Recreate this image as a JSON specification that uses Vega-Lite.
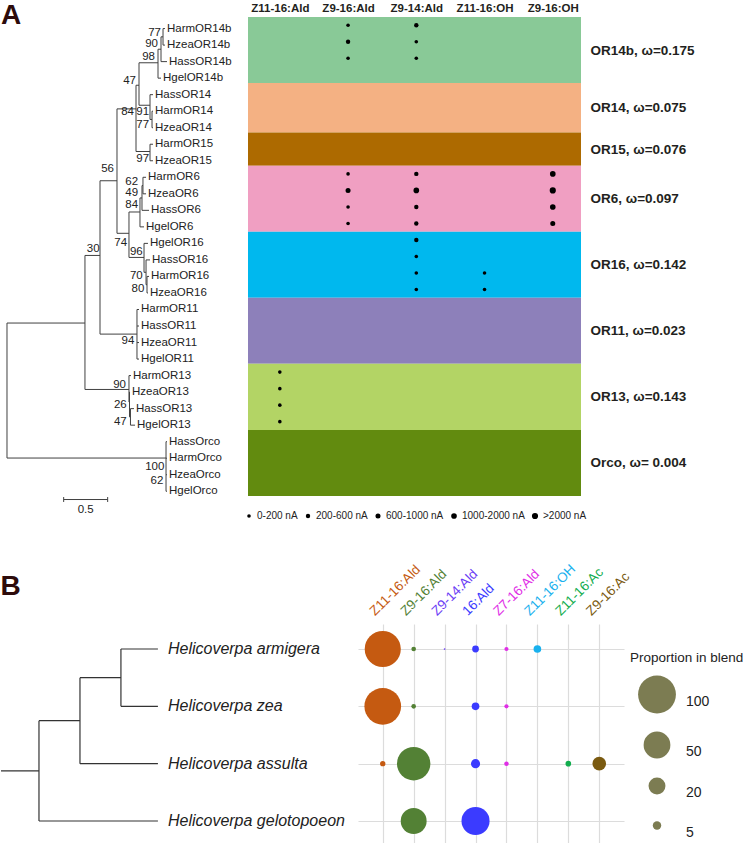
{
  "$schema": "https://vega.github.io/schema/vega-lite/v6.json",
  "padding": {"left": 0, "top": 2, "right": 0, "bottom": 0},
  "background": "white",
  "config": {
    "view": {"stroke": null},
    "font": "Liberation Sans",
    "legend": {"symbolBaseFillColor": "#7c7c52", "symbolBaseStrokeColor": "transparent"}
  },
  "datasets": {
    "treeA": [
      {"x1": 0, "x2": 0, "y1": 17.82, "y2": 25.99},
      {"x1": 0, "x2": 0.886, "y1": 17.82, "y2": 17.82},
      {"x1": 0, "x2": 1.807, "y1": 25.99, "y2": 25.99},
      {"x1": 0.886, "x2": 0.886, "y1": 13.73, "y2": 21.84},
      {"x1": 0.886, "x2": 1.057, "y1": 13.73, "y2": 13.73},
      {"x1": 0.886, "x2": 1.386, "y1": 21.84, "y2": 21.84},
      {"x1": 1.057, "x2": 1.057, "y1": 9.21, "y2": 18.49},
      {"x1": 1.057, "x2": 1.25, "y1": 9.21, "y2": 9.21},
      {"x1": 1.057, "x2": 1.477, "y1": 18.49, "y2": 18.49},
      {"x1": 1.25, "x2": 1.25, "y1": 4.86, "y2": 12.39},
      {"x1": 1.25, "x2": 1.466, "y1": 4.86, "y2": 4.86},
      {"x1": 1.25, "x2": 1.386, "y1": 12.39, "y2": 12.39},
      {"x1": 1.466, "x2": 1.466, "y1": 3.43, "y2": 7.44},
      {"x1": 1.466, "x2": 1.5, "y1": 3.43, "y2": 3.43},
      {"x1": 1.466, "x2": 1.625, "y1": 7.44, "y2": 7.44},
      {"x1": 1.5, "x2": 1.5, "y1": 2.07, "y2": 4.64},
      {"x1": 1.5, "x2": 1.716, "y1": 2.07, "y2": 2.07},
      {"x1": 1.5, "x2": 1.625, "y1": 4.64, "y2": 4.64},
      {"x1": 1.716, "x2": 1.716, "y1": 1.25, "y2": 3},
      {"x1": 1.716, "x2": 1.75, "y1": 1.25, "y2": 1.25},
      {"x1": 1.716, "x2": 1.75, "y1": 3, "y2": 3},
      {"x1": 1.75, "x2": 1.75, "y1": 0.5, "y2": 2},
      {"x1": 1.75, "x2": 1.773, "y1": 0.5, "y2": 0.5},
      {"x1": 1.75, "x2": 1.818, "y1": 2, "y2": 2},
      {"x1": 1.773, "x2": 1.773, "y1": 0, "y2": 1},
      {"x1": 1.773, "x2": 1.795, "y1": 0, "y2": 0},
      {"x1": 1.773, "x2": 1.795, "y1": 1, "y2": 1},
      {"x1": 1.625, "x2": 1.625, "y1": 4, "y2": 5.5},
      {"x1": 1.625, "x2": 1.659, "y1": 4, "y2": 4},
      {"x1": 1.625, "x2": 1.648, "y1": 5.5, "y2": 5.5},
      {"x1": 1.648, "x2": 1.648, "y1": 5, "y2": 6},
      {"x1": 1.648, "x2": 1.659, "y1": 5, "y2": 5},
      {"x1": 1.648, "x2": 1.659, "y1": 6, "y2": 6},
      {"x1": 1.625, "x2": 1.625, "y1": 7, "y2": 8},
      {"x1": 1.625, "x2": 1.659, "y1": 7, "y2": 7},
      {"x1": 1.625, "x2": 1.659, "y1": 8, "y2": 8},
      {"x1": 1.386, "x2": 1.386, "y1": 11.1, "y2": 13.85},
      {"x1": 1.386, "x2": 1.511, "y1": 11.1, "y2": 11.1},
      {"x1": 1.386, "x2": 1.557, "y1": 13.85, "y2": 13.85},
      {"x1": 1.511, "x2": 1.511, "y1": 10.25, "y2": 12},
      {"x1": 1.511, "x2": 1.534, "y1": 10.25, "y2": 10.25},
      {"x1": 1.511, "x2": 1.557, "y1": 12, "y2": 12},
      {"x1": 1.534, "x2": 1.534, "y1": 9.5, "y2": 11},
      {"x1": 1.534, "x2": 1.545, "y1": 9.5, "y2": 9.5},
      {"x1": 1.534, "x2": 1.614, "y1": 11, "y2": 11},
      {"x1": 1.545, "x2": 1.545, "y1": 9, "y2": 10},
      {"x1": 1.545, "x2": 1.58, "y1": 9, "y2": 9},
      {"x1": 1.545, "x2": 1.58, "y1": 10, "y2": 10},
      {"x1": 1.557, "x2": 1.557, "y1": 13, "y2": 14.75},
      {"x1": 1.557, "x2": 1.602, "y1": 13, "y2": 13},
      {"x1": 1.557, "x2": 1.58, "y1": 14.75, "y2": 14.75},
      {"x1": 1.58, "x2": 1.58, "y1": 14, "y2": 15.5},
      {"x1": 1.58, "x2": 1.625, "y1": 14, "y2": 14},
      {"x1": 1.58, "x2": 1.591, "y1": 15.5, "y2": 15.5},
      {"x1": 1.591, "x2": 1.591, "y1": 15, "y2": 16},
      {"x1": 1.591, "x2": 1.614, "y1": 15, "y2": 15},
      {"x1": 1.591, "x2": 1.602, "y1": 16, "y2": 16},
      {"x1": 1.477, "x2": 1.477, "y1": 17, "y2": 20},
      {"x1": 1.477, "x2": 1.5, "y1": 17, "y2": 17},
      {"x1": 1.477, "x2": 1.5, "y1": 18, "y2": 18},
      {"x1": 1.477, "x2": 1.5, "y1": 19, "y2": 19},
      {"x1": 1.477, "x2": 1.5, "y1": 20, "y2": 20},
      {"x1": 1.386, "x2": 1.386, "y1": 21, "y2": 22.6},
      {"x1": 1.386, "x2": 1.409, "y1": 21, "y2": 21},
      {"x1": 1.386, "x2": 1.392, "y1": 22.6, "y2": 22.6},
      {"x1": 1.392, "x2": 1.392, "y1": 22, "y2": 23.5},
      {"x1": 1.392, "x2": 1.398, "y1": 22, "y2": 22},
      {"x1": 1.392, "x2": 1.403, "y1": 23.5, "y2": 23.5},
      {"x1": 1.403, "x2": 1.403, "y1": 23, "y2": 24},
      {"x1": 1.403, "x2": 1.443, "y1": 23, "y2": 23},
      {"x1": 1.403, "x2": 1.455, "y1": 24, "y2": 24},
      {"x1": 1.807, "x2": 1.807, "y1": 25, "y2": 28},
      {"x1": 1.807, "x2": 1.818, "y1": 25, "y2": 25},
      {"x1": 1.807, "x2": 1.818, "y1": 26, "y2": 26},
      {"x1": 1.807, "x2": 1.818, "y1": 27, "y2": 27},
      {"x1": 1.807, "x2": 1.818, "y1": 28, "y2": 28}
    ],
    "scaleBar": [
      {"x1": 0.644, "x2": 1.144, "y1": 28.5, "y2": 28.5},
      {"x1": 0.644, "x2": 0.644, "y1": 28.35, "y2": 28.65},
      {"x1": 1.144, "x2": 1.144, "y1": 28.35, "y2": 28.65}
    ],
    "scaleLabel": [{"label": "0.5", "x": 0.894, "y": 29.13}],
    "leavesA": [
      {"name": "HarmOR14b", "i": 0, "tip": 1.795},
      {"name": "HzeaOR14b", "i": 1, "tip": 1.795},
      {"name": "HassOR14b", "i": 2, "tip": 1.818},
      {"name": "HgelOR14b", "i": 3, "tip": 1.75},
      {"name": "HassOR14", "i": 4, "tip": 1.659},
      {"name": "HarmOR14", "i": 5, "tip": 1.659},
      {"name": "HzeaOR14", "i": 6, "tip": 1.659},
      {"name": "HarmOR15", "i": 7, "tip": 1.659},
      {"name": "HzeaOR15", "i": 8, "tip": 1.659},
      {"name": "HarmOR6", "i": 9, "tip": 1.58},
      {"name": "HzeaOR6", "i": 10, "tip": 1.58},
      {"name": "HassOR6", "i": 11, "tip": 1.614},
      {"name": "HgelOR6", "i": 12, "tip": 1.557},
      {"name": "HgelOR16", "i": 13, "tip": 1.602},
      {"name": "HassOR16", "i": 14, "tip": 1.625},
      {"name": "HarmOR16", "i": 15, "tip": 1.614},
      {"name": "HzeaOR16", "i": 16, "tip": 1.602},
      {"name": "HarmOR11", "i": 17, "tip": 1.5},
      {"name": "HassOR11", "i": 18, "tip": 1.5},
      {"name": "HzeaOR11", "i": 19, "tip": 1.5},
      {"name": "HgelOR11", "i": 20, "tip": 1.5},
      {"name": "HarmOR13", "i": 21, "tip": 1.409},
      {"name": "HzeaOR13", "i": 22, "tip": 1.398},
      {"name": "HassOR13", "i": 23, "tip": 1.443},
      {"name": "HgelOR13", "i": 24, "tip": 1.455},
      {"name": "HassOrco", "i": 25, "tip": 1.818},
      {"name": "HarmOrco", "i": 26, "tip": 1.818},
      {"name": "HzeaOrco", "i": 27, "tip": 1.818},
      {"name": "HgelOrco", "i": 28, "tip": 1.818}
    ],
    "bootA": [
      {"support": 77, "x": 1.75, "y": 0.29},
      {"support": 90, "x": 1.716, "y": 0.93},
      {"support": 98, "x": 1.682, "y": 1.71},
      {"support": 47, "x": 1.466, "y": 3.17},
      {"support": 84, "x": 1.443, "y": 5.06},
      {"support": 91, "x": 1.614, "y": 5.06},
      {"support": 77, "x": 1.614, "y": 5.84},
      {"support": 97, "x": 1.614, "y": 7.91},
      {"support": 56, "x": 1.216, "y": 8.52},
      {"support": 62, "x": 1.489, "y": 9.27},
      {"support": 49, "x": 1.489, "y": 9.95},
      {"support": 84, "x": 1.489, "y": 10.66},
      {"support": 74, "x": 1.364, "y": 12.95},
      {"support": 30, "x": 1.053, "y": 13.34},
      {"support": 96, "x": 1.542, "y": 13.5},
      {"support": 70, "x": 1.542, "y": 14.97},
      {"support": 80, "x": 1.56, "y": 15.78},
      {"support": 94, "x": 1.447, "y": 18.93},
      {"support": 90, "x": 1.352, "y": 21.54},
      {"support": 26, "x": 1.36, "y": 22.8},
      {"support": 47, "x": 1.36, "y": 23.81},
      {"support": 100, "x": 1.788, "y": 26.52},
      {"support": 62, "x": 1.776, "y": 27.35}
    ],
    "bandsA": [
      {"group": "OR14b", "from": -0.5, "to": 3.5},
      {"group": "OR14", "from": 3.5, "to": 6.5},
      {"group": "OR15", "from": 6.5, "to": 8.5},
      {"group": "OR6", "from": 8.5, "to": 12.5},
      {"group": "OR16", "from": 12.5, "to": 16.5},
      {"group": "OR11", "from": 16.5, "to": 20.5},
      {"group": "OR13", "from": 20.5, "to": 24.5},
      {"group": "Orco", "from": 24.5, "to": 28.5}
    ],
    "dotsA": [
      {"leaf": "HarmOR14b", "compound": "Z9-16:Ald", "level": "0-200 nA"},
      {"leaf": "HarmOR14b", "compound": "Z9-14:Ald", "level": "200-600 nA"},
      {"leaf": "HzeaOR14b", "compound": "Z9-16:Ald", "level": "200-600 nA"},
      {"leaf": "HzeaOR14b", "compound": "Z9-14:Ald", "level": "0-200 nA"},
      {"leaf": "HassOR14b", "compound": "Z9-16:Ald", "level": "0-200 nA"},
      {"leaf": "HassOR14b", "compound": "Z9-14:Ald", "level": "0-200 nA"},
      {"leaf": "HarmOR6", "compound": "Z9-16:Ald", "level": "0-200 nA"},
      {"leaf": "HarmOR6", "compound": "Z9-14:Ald", "level": "200-600 nA"},
      {"leaf": "HarmOR6", "compound": "Z9-16:OH", "level": "1000-2000 nA"},
      {"leaf": "HzeaOR6", "compound": "Z9-16:Ald", "level": "600-1000 nA"},
      {"leaf": "HzeaOR6", "compound": "Z9-14:Ald", "level": "1000-2000 nA"},
      {"leaf": "HzeaOR6", "compound": "Z9-16:OH", "level": ">2000 nA"},
      {"leaf": "HassOR6", "compound": "Z9-16:Ald", "level": "0-200 nA"},
      {"leaf": "HassOR6", "compound": "Z9-14:Ald", "level": "200-600 nA"},
      {"leaf": "HassOR6", "compound": "Z9-16:OH", "level": "1000-2000 nA"},
      {"leaf": "HgelOR6", "compound": "Z9-16:Ald", "level": "0-200 nA"},
      {"leaf": "HgelOR6", "compound": "Z9-14:Ald", "level": "200-600 nA"},
      {"leaf": "HgelOR6", "compound": "Z9-16:OH", "level": "600-1000 nA"},
      {"leaf": "HgelOR16", "compound": "Z9-14:Ald", "level": "200-600 nA"},
      {"leaf": "HassOR16", "compound": "Z9-14:Ald", "level": "0-200 nA"},
      {"leaf": "HarmOR16", "compound": "Z9-14:Ald", "level": "0-200 nA"},
      {"leaf": "HarmOR16", "compound": "Z11-16:OH", "level": "0-200 nA"},
      {"leaf": "HzeaOR16", "compound": "Z9-14:Ald", "level": "0-200 nA"},
      {"leaf": "HzeaOR16", "compound": "Z11-16:OH", "level": "0-200 nA"},
      {"leaf": "HarmOR13", "compound": "Z11-16:Ald", "level": "0-200 nA"},
      {"leaf": "HzeaOR13", "compound": "Z11-16:Ald", "level": "0-200 nA"},
      {"leaf": "HassOR13", "compound": "Z11-16:Ald", "level": "0-200 nA"},
      {"leaf": "HgelOR13", "compound": "Z11-16:Ald", "level": "0-200 nA"}
    ],
    "treeB": [
      {"x1": 0, "x2": 0.968, "y1": 2.125, "y2": 2.125},
      {"x1": 0.968, "x2": 0.968, "y1": 1.25, "y2": 3},
      {"x1": 0.968, "x2": 2.013, "y1": 1.25, "y2": 1.25},
      {"x1": 0.968, "x2": 4.0, "y1": 3, "y2": 3},
      {"x1": 2.013, "x2": 2.013, "y1": 0.5, "y2": 2},
      {"x1": 2.013, "x2": 3.057, "y1": 0.5, "y2": 0.5},
      {"x1": 2.013, "x2": 4.0, "y1": 2, "y2": 2},
      {"x1": 3.057, "x2": 3.057, "y1": 0, "y2": 1},
      {"x1": 3.057, "x2": 4.0, "y1": 0, "y2": 0},
      {"x1": 3.057, "x2": 4.0, "y1": 1, "y2": 1}
    ],
    "speciesB": [
      {"species": "Helicoverpa armigera", "i": 0, "tip": 4.0},
      {"species": "Helicoverpa zea", "i": 1, "tip": 4.0},
      {"species": "Helicoverpa assulta", "i": 2, "tip": 4.0},
      {"species": "Helicoverpa gelotopoeon", "i": 3, "tip": 4.0}
    ],
    "dotsB": [
      {"species": "Helicoverpa armigera", "compound": "Z11-16:Ald", "value": 91},
      {"species": "Helicoverpa armigera", "compound": "Z9-16:Ald", "value": 1.5},
      {"species": "Helicoverpa armigera", "compound": "Z9-14:Ald", "value": 0.2},
      {"species": "Helicoverpa armigera", "compound": "16:Ald", "value": 3.2},
      {"species": "Helicoverpa armigera", "compound": "Z7-16:Ald", "value": 1.2},
      {"species": "Helicoverpa armigera", "compound": "Z11-16:OH", "value": 4.1},
      {"species": "Helicoverpa zea", "compound": "Z11-16:Ald", "value": 94},
      {"species": "Helicoverpa zea", "compound": "Z9-16:Ald", "value": 1.5},
      {"species": "Helicoverpa zea", "compound": "16:Ald", "value": 4.1},
      {"species": "Helicoverpa zea", "compound": "Z7-16:Ald", "value": 1.2},
      {"species": "Helicoverpa assulta", "compound": "Z11-16:Ald", "value": 2},
      {"species": "Helicoverpa assulta", "compound": "Z9-16:Ald", "value": 78},
      {"species": "Helicoverpa assulta", "compound": "16:Ald", "value": 5.8},
      {"species": "Helicoverpa assulta", "compound": "Z7-16:Ald", "value": 1.4},
      {"species": "Helicoverpa assulta", "compound": "Z11-16:Ac", "value": 2.2},
      {"species": "Helicoverpa assulta", "compound": "Z9-16:Ac", "value": 12.9},
      {"species": "Helicoverpa gelotopoeon", "compound": "Z9-16:Ald", "value": 47},
      {"species": "Helicoverpa gelotopoeon", "compound": "16:Ald", "value": 55}
    ]
  },
  "spacing": 40,
  "resolve": {"scale": {"size": "independent", "color": "independent"}, "legend": {"size": "independent", "color": "independent"}},
  "vconcat": [
    {
      "spacing": 0,
      "resolve": {"scale": {"size": "independent", "color": "independent"}, "legend": {"size": "independent", "color": "independent"}},
      "hconcat": [
        {
          "width": 243,
          "height": 504,
          "title": {"text": "A", "anchor": "start", "fontSize": 28, "fontWeight": "bold", "color": "#2d0b0b", "offset": -13},
          "layer": [
            {
              "data": {"name": "treeA"},
              "mark": {"type": "rule", "color": "#404040", "strokeWidth": 1},
              "encoding": {
                "x": {"field": "x1", "type": "quantitative", "scale": {"domain": [-0.068, 2.693], "nice": false, "zero": false}, "axis": null},
                "x2": {"field": "x2"},
                "y": {"field": "y1", "type": "quantitative", "scale": {"domain": [-0.7, 29.8], "nice": false, "zero": false, "reverse": true}, "axis": null},
                "y2": {"field": "y2"}
              }
            },
            {
              "data": {"name": "scaleBar"},
              "mark": {"type": "rule", "color": "#404040", "strokeWidth": 1},
              "encoding": {
                "x": {"field": "x1", "type": "quantitative", "axis": null},
                "x2": {"field": "x2"},
                "y": {"field": "y1", "type": "quantitative", "axis": null},
                "y2": {"field": "y2"}
              }
            },
            {
              "data": {"name": "scaleLabel"},
              "mark": {"type": "text", "fontSize": 11.5, "color": "#222222", "baseline": "middle"},
              "encoding": {
                "x": {"field": "x", "type": "quantitative", "axis": null},
                "y": {"field": "y", "type": "quantitative", "axis": null},
                "text": {"field": "label"}
              }
            },
            {
              "data": {"name": "leavesA"},
              "mark": {"type": "text", "align": "left", "baseline": "middle", "dx": 2, "fontSize": 11.5, "color": "#222222"},
              "encoding": {
                "x": {"field": "tip", "type": "quantitative", "axis": null},
                "y": {"field": "i", "type": "quantitative", "axis": null},
                "text": {"field": "name"}
              }
            },
            {
              "data": {"name": "bootA"},
              "mark": {"type": "text", "align": "right", "baseline": "middle", "fontSize": 11.5, "color": "#222222"},
              "encoding": {
                "x": {"field": "x", "type": "quantitative", "axis": null},
                "y": {"field": "y", "type": "quantitative", "axis": null},
                "text": {"field": "support"}
              }
            }
          ]
        },
        {
          "width": 333,
          "height": 479,
          "layer": [
            {
              "data": {"name": "bandsA"},
              "mark": {"type": "rect"},
              "encoding": {
                "y": {"field": "from", "type": "quantitative", "scale": {"domain": [-0.5, 28.5], "nice": false, "zero": false, "reverse": true},
                  "axis": {"orient": "right", "values": [1.5, 5, 7.5, 10.5, 14.5, 18.5, 22.5, 26.5],
                    "labelExpr": "datum.value == 1.5 ? 'OR14b, ω=0.175' : datum.value == 5 ? 'OR14, ω=0.075' : datum.value == 7.5 ? 'OR15, ω=0.076' : datum.value == 10.5 ? 'OR6, ω=0.097' : datum.value == 14.5 ? 'OR16, ω=0.142' : datum.value == 18.5 ? 'OR11, ω=0.023' : datum.value == 22.5 ? 'OR13, ω=0.143' : 'Orco, ω= 0.004'",
                    "ticks": false, "domain": false, "grid": false, "title": null, "labelFontSize": 13.5, "labelFontWeight": "bold", "labelColor": "#231f20", "labelPadding": 9}},
                "y2": {"field": "to"},
                "color": {"field": "group", "type": "nominal",
                  "scale": {"domain": ["OR14b", "OR14", "OR15", "OR6", "OR16", "OR11", "OR13", "Orco"],
                    "range": ["#89c997", "#f4b183", "#ad6a00", "#f09fc2", "#00b8ee", "#8d80ba", "#b3d465", "#628b0f"]},
                  "legend": null}
              }
            },
            {
              "data": {"name": "dotsA"},
              "transform": [{"lookup": "leaf", "from": {"data": {"name": "leavesA"}, "key": "name", "fields": ["i"]}}],
              "mark": {"type": "circle", "color": "black", "opacity": 1},
              "encoding": {
                "x": {"field": "compound", "type": "nominal",
                  "scale": {"type": "point", "domain": ["Z11-16:Ald", "Z9-16:Ald", "Z9-14:Ald", "Z11-16:OH", "Z9-16:OH"], "padding": 0.44, "align": 0.53},
                  "axis": {"orient": "top", "title": null, "labelAngle": 0, "labelFontWeight": "bold", "labelFontSize": 11.5, "labelColor": "#231f20", "ticks": false, "domain": false, "grid": false, "labelPadding": 4}},
                "y": {"field": "i", "type": "quantitative",
                  "axis": {"orient": "right", "values": [1.5, 5, 7.5, 10.5, 14.5, 18.5, 22.5, 26.5],
                    "labelExpr": "datum.value == 1.5 ? 'OR14b, ω=0.175' : datum.value == 5 ? 'OR14, ω=0.075' : datum.value == 7.5 ? 'OR15, ω=0.076' : datum.value == 10.5 ? 'OR6, ω=0.097' : datum.value == 14.5 ? 'OR16, ω=0.142' : datum.value == 18.5 ? 'OR11, ω=0.023' : datum.value == 22.5 ? 'OR13, ω=0.143' : 'Orco, ω= 0.004'",
                    "ticks": false, "domain": false, "grid": false, "title": null, "labelFontSize": 13.5, "labelFontWeight": "bold", "labelColor": "#231f20", "labelPadding": 9}},
                "size": {"field": "level", "type": "ordinal",
                  "scale": {"domain": ["0-200 nA", "200-600 nA", "600-1000 nA", "1000-2000 nA", ">2000 nA"], "range": [13, 38, 87, 160, 263]},
                  "legend": {"orient": "none", "legendX": -4, "legendY": 494, "direction": "horizontal", "title": null, "labelFontSize": 10, "labelColor": "#222222", "labelOffset": 3, "columnPadding": 5, "symbolFillColor": "black", "symbolStrokeWidth": 0, "symbolOpacity": 1, "symbolType": "circle"}}
              }
            }
          ]
        }
      ]
    },
    {
      "spacing": 0,
      "resolve": {"scale": {"size": "independent", "color": "independent"}, "legend": {"size": "independent", "color": "independent"}},
      "hconcat": [
        {
          "width": 357,
          "height": 222,
          "title": {"text": "B", "anchor": "start", "fontSize": 28, "fontWeight": "bold", "color": "#2d0b0b", "offset": 23},
          "layer": [
            {
              "data": {"name": "treeB"},
              "mark": {"type": "rule", "color": "#333333", "strokeWidth": 1.2},
              "encoding": {
                "x": {"field": "x1", "type": "quantitative", "scale": {"domain": [0, 9.1], "nice": false, "zero": false}, "axis": null},
                "x2": {"field": "x2"},
                "y": {"field": "y1", "type": "quantitative", "scale": {"domain": [-0.436, 3.436], "nice": false, "zero": false, "reverse": true}, "axis": null},
                "y2": {"field": "y2"}
              }
            },
            {
              "data": {"name": "speciesB"},
              "mark": {"type": "text", "align": "left", "baseline": "middle", "dx": 10, "fontSize": 16, "fontStyle": "italic", "color": "#222222"},
              "encoding": {
                "x": {"field": "tip", "type": "quantitative", "axis": null},
                "y": {"field": "i", "type": "quantitative", "axis": null},
                "text": {"field": "species"}
              }
            }
          ]
        },
        {
          "width": 266,
          "height": 222,
          "data": {"name": "dotsB"},
          "mark": {"type": "circle", "opacity": 1},
          "encoding": {
            "x": {"field": "compound", "type": "nominal",
              "scale": {"type": "point", "domain": ["Z11-16:Ald", "Z9-16:Ald", "Z9-14:Ald", "16:Ald", "Z7-16:Ald", "Z11-16:OH", "Z11-16:Ac", "Z9-16:Ac"], "padding": 0.8},
              "axis": {"orient": "top", "title": null, "grid": true, "gridColor": "#dcdcdc", "gridWidth": 1.2, "ticks": false, "domain": false,
                "labelAngle": -45, "labelAlign": "left", "labelBaseline": "middle", "labelFontSize": 13.5, "labelPadding": 11, "labelOffset": -11, "labelOverlap": false, "labelBound": false,
                "labelColor": {"condition": [
                  {"test": "datum.value == 'Z11-16:Ald'", "value": "#c55a11"},
                  {"test": "datum.value == 'Z9-16:Ald'", "value": "#538135"},
                  {"test": "datum.value == 'Z9-14:Ald'", "value": "#6b3df5"},
                  {"test": "datum.value == '16:Ald'", "value": "#3b3bff"},
                  {"test": "datum.value == 'Z7-16:Ald'", "value": "#e02ee6"},
                  {"test": "datum.value == 'Z11-16:OH'", "value": "#19b1ee"},
                  {"test": "datum.value == 'Z11-16:Ac'", "value": "#12ad4e"}
                ], "value": "#7a5a10"}}},
            "y": {"field": "species", "type": "nominal",
              "scale": {"type": "point", "domain": ["Helicoverpa armigera", "Helicoverpa zea", "Helicoverpa assulta", "Helicoverpa gelotopoeon"], "padding": 0.436},
              "axis": {"grid": true, "gridColor": "#dcdcdc", "gridWidth": 1.2, "labels": false, "ticks": false, "domain": false, "title": null}},
            "size": {"field": "value", "type": "quantitative",
              "scale": {"type": "linear", "domain": [0, 100], "range": [0, 1432], "zero": true},
              "legend": {"orient": "none", "legendX": 272, "legendY": 27, "title": "Proportion in blend", "titleFontSize": 13.5, "titleFontWeight": "normal", "titleColor": "#222222", "titlePadding": 11,
                "labelFontSize": 14, "labelColor": "#222222", "labelBaseline": "top", "values": [100, 50, 20, 5], "symbolFillColor": "#7c7c52", "symbolStrokeColor": "transparent", "symbolStrokeWidth": 0, "symbolOpacity": 1, "symbolType": "circle", "rowPadding": 18, "symbolOffset": 8, "labelOffset": 10}},
            "color": {"field": "compound", "type": "nominal",
              "scale": {"domain": ["Z11-16:Ald", "Z9-16:Ald", "Z9-14:Ald", "16:Ald", "Z7-16:Ald", "Z11-16:OH", "Z11-16:Ac", "Z9-16:Ac"],
                "range": ["#c55a11", "#538135", "#6b3df5", "#3b3bff", "#e02ee6", "#19b1ee", "#12ad4e", "#7a5a10"]},
              "legend": null}
          }
        }
      ]
    }
  ]
}
